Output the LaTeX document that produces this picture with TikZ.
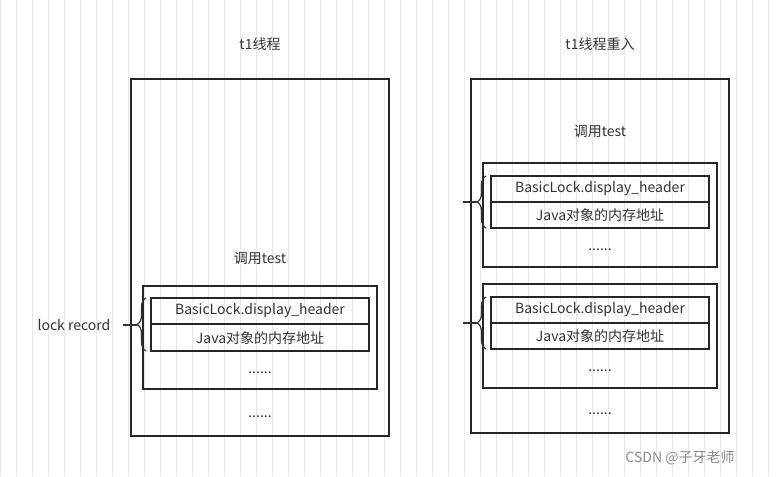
\documentclass[tikz,border=0pt]{standalone}
\usepackage{fontspec}
\setmainfont{Noto Sans CJK SC}
\usetikzlibrary{decorations.pathreplacing}
\begin{document}
\begin{tikzpicture}[x=1pt,y=-1pt,
  box/.style={draw=black!85,line width=1.3pt},
  cell/.style={draw=black!85,line width=1.1pt},
  txt/.style={font=\fontsize{14}{16}\selectfont,text=black!80},
  brc/.style={draw=black!80,line width=1.2pt,decorate,decoration={brace,amplitude=9pt}}]
\useasboundingbox (0,0) rectangle (778,476);
\fill[white] (0,0) rectangle (778,476);
\draw[black!9,line width=0.7pt,step=16] (0,0) grid (778,476);
% left
\node[txt] (t1) at (260,44) {t1线程};
\draw[box] (131,79) rectangle (389,436);
\node[txt] (c1) at (260,258) {调用test};
\draw[box] (143,286) rectangle (377,389);
\draw[cell] (151,298) rectangle (369,351);
\draw[cell] (151,324) -- (369,324);
\node[txt] (h1) at (260,311) {BasicLock.display\_header};
\node[txt] (a1) at (260,338) {Java对象的内存地址};
\node[txt] (d1) at (260,373) {......};
\node[txt] (e1) at (260,417) {......};
\draw[brc] (146,351) -- (146,298);
\coordinate (b1) at (137,325);
\node[txt] (lr) at (74,325) {lock record};
\draw[draw=black!80,line width=1.2pt] (123,325) -- (b1);
% right
\node[txt] (t2) at (600,44) {t1线程重入};
\draw[box] (471,79) rectangle (729,433);
\node[txt] (c2) at (600,131) {调用test};
\foreach \y/\n in {163/a,284/b}{
  \draw[box] (483,\y) rectangle (717,\y+104);
  \draw[cell] (491,\y+13) rectangle (709,\y+65);
  \draw[cell] (491,\y+39) -- (709,\y+39);
  \node[txt] (h\n) at (600,\y+26) {BasicLock.display\_header};
  \node[txt] (j\n) at (600,\y+52) {Java对象的内存地址};
  \node[txt] (d\n) at (600,\y+87) {......};
  \draw[brc] (486,\y+65) -- (486,\y+13);
  \draw[draw=black!80,line width=1.2pt] (463,\y+39) -- (477,\y+39);
}
\node[txt] (e2) at (600,414) {......};
\node[font=\fontsize{14}{16}\selectfont,text=black!45] (wm) at (680,458) {CSDN @子牙老师};
\end{tikzpicture}
\end{document}
